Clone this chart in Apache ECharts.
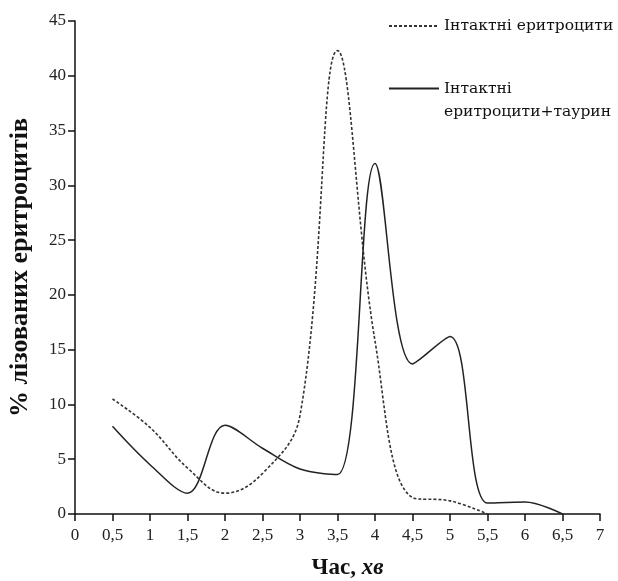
<!DOCTYPE html>
<html>
<head>
<meta charset="utf-8">
<script src="https://cdn.jsdelivr.net/npm/echarts@6/dist/echarts.min.js"></script>
<style>
  html, body { margin: 0; padding: 0; background: #fff; }
  #chart { width: 618px; height: 581px; }
</style>
</head>
<body>
<div id="chart"></div>
<script>
var timePt = [0.5, 1, 1.5, 2, 2.5, 3, 3.5, 4, 4.5, 5, 5.5, 6, 6.5]
var intactVal = [10.5, 7.9, 4.2, 1.9, 3.7, 9.0, 42.3, 15.8, 1.5, 1.2, 0]
var taurineVal = [8.0, 4.5, 1.9, 8.1, 6.0, 4.1, 3.6, 32.0, 13.7, 16.2, 1.0, 1.1, 0]

var serifFont = '"Liberation Serif", "Times New Roman", serif'
var legendFont = '"DejaVu Serif", serif'

function pairs(vals) {
  var out = []
  for (var i = 0; i < vals.length; i++) {
    out.push([timePt[i], vals[i]])
  }
  return out
}

var chart = echarts.init(document.getElementById('chart'), null, { renderer: 'canvas' })

var option = {
  animation: false,
  backgroundColor: '#fff',
  grid: {
    left: 75,
    right: 18,
    top: 21,
    bottom: 67,
    outerBoundsMode: 'none'
  },
  legend: [{
    left: 388,
    top: 18,
    padding: 0,
    itemWidth: 50,
    itemHeight: 14,
    data: ['Інтактні еритроцити'],
    itemStyle: { color: 'transparent', borderWidth: 0 },
    textStyle: { fontFamily: legendFont, fontSize: 15.5, color: '#111' }
  }, {
    left: 388,
    top: 54,
    padding: 0,
    itemWidth: 50,
    itemHeight: 14,
    data: ['Інтактні еритроцити+таурин'],
    itemStyle: { color: 'transparent', borderWidth: 0 },
    formatter: function() {
      return ' \nІнтактні\nеритроцити+таурин'
    },
    textStyle: { fontFamily: legendFont, fontSize: 15.5, color: '#111', lineHeight: 23 }
  }],
  xAxis: {
    type: 'value',
    min: 0,
    max: 7,
    interval: 0.5,
    name: '{a|Час, }{b|хв}',
    nameLocation: 'middle',
    nameGap: 43,
    nameTextStyle: {
      padding: [0, 0, 0, 20],
      rich: {
        a: { fontFamily: serifFont, fontSize: 23, fontWeight: 'bold', color: '#111' },
        b: { fontFamily: serifFont, fontSize: 23, fontWeight: 'bold', fontStyle: 'italic', color: '#111' }
      }
    },
    splitLine: { show: false },
    axisLine: { lineStyle: { color: '#111', width: 1.5 } },
    axisTick: { length: 7, lineStyle: { color: '#111', width: 1.5 } },
    axisLabel: {
      margin: 13,
      fontFamily: serifFont,
      fontSize: 17,
      color: '#222',
      formatter: function(v) { return String(v).replace('.', ',') }
    }
  },
  yAxis: {
    type: 'value',
    min: 0,
    max: 45,
    interval: 5,
    name: '% лізованих еритроцитів',
    nameLocation: 'middle',
    nameGap: 42,
    nameTextStyle: { fontFamily: serifFont, fontSize: 26, fontWeight: 'bold', color: '#111' },
    splitLine: { show: false },
    axisLine: { show: true, lineStyle: { color: '#111', width: 1.5 } },
    axisTick: { show: true, length: 7, lineStyle: { color: '#111', width: 1.5 } },
    axisLabel: { margin: 9, fontFamily: serifFont, fontSize: 17, color: '#222' }
  },
  series: [{
    type: 'line',
    name: 'Інтактні еритроцити',
    smooth: 0.4,
    symbol: 'none',
    data: pairs(intactVal),
    lineStyle: { color: '#333', width: 1.6, type: [3, 2] },
    itemStyle: { color: '#333' }
  }, {
    type: 'line',
    name: 'Інтактні еритроцити+таурин',
    smooth: 0.35,
    symbol: 'none',
    data: pairs(taurineVal),
    lineStyle: { color: '#222', width: 1.5 },
    itemStyle: { color: '#222' }
  }]
}

chart.setOption(option)
</script>
</body>
</html>
